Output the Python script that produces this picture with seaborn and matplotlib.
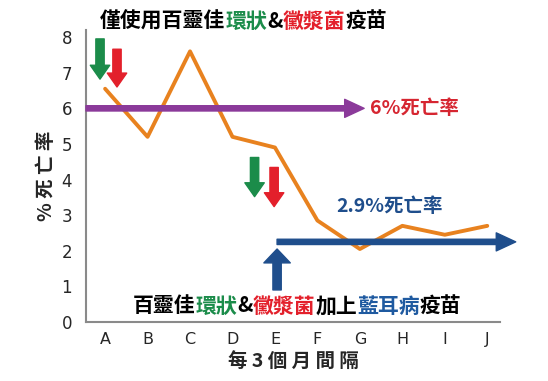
import matplotlib
matplotlib.use("Agg")
import matplotlib.pyplot as plt
import seaborn as sns
import pandas as pd

categories = ["A", "B", "C", "D", "E", "F", "G", "H", "I", "J"]
mortality = [6.55, 5.2, 7.6, 5.2, 4.9, 2.85, 2.05, 2.7, 2.45, 2.7]
yticks = [0, 1, 2, 3, 4, 5, 6, 7, 8]
rate_before = 6.0
rate_after = 2.25
label_before = "6%死亡率"
label_after = "2.9%死亡率"
title_parts = [("僅使用百靈佳", "black"), ("環狀", "#1B8C4A"), ("&", "black"),
               ("黴漿菌", "#E3202B"), ("疫苗", "black")]
bottom_parts = [("百靈佳", "black"), ("環狀", "#1B8C4A"), ("&", "black"),
                ("黴漿菌", "#E3202B"), ("加上", "black"), ("藍耳病", "#1F5AA0"),
                ("疫苗", "black")]
xlabel = "每 3 個 月 間 隔"
ylabel = "% 死 亡 率"

sns.set_theme(style="white")
FAM = ["Noto Sans CJK TC", "DejaVu Sans"]
plt.rcParams["font.family"] = FAM

fig = plt.figure(figsize=(5.48, 3.81), dpi=100)
ax = fig.add_axes([86 / 548, 1 - 322 / 381, (500 - 86) / 548, (322 - 30) / 381])

df = pd.DataFrame({"cat": categories, "val": mortality})
sns.lineplot(data=df, x="cat", y="val", ax=ax, color="#E8821F", linewidth=2.8, sort=False)

ax.set_xlim(-0.45, 9.3)
ax.set_ylim(0, 8.2)
ax.set_yticks(yticks)
ax.set_yticklabels([str(v) for v in yticks], fontsize=12, family="DejaVu Sans")
ax.set_xticks(range(len(categories)))
ax.set_xticklabels(categories, fontsize=11.5, family="DejaVu Sans")
ax.tick_params(axis="both", length=0)
ax.tick_params(axis="y", pad=10)
ax.tick_params(axis="x", pad=7)
for s in ["top", "right"]:
    ax.spines[s].set_visible(False)
for s in ["left", "bottom"]:
    ax.spines[s].set_color("#8a8a8a")
    ax.spines[s].set_linewidth(1.5)

ax.set_xlabel(xlabel, fontsize=14, fontweight="bold", labelpad=4)
ax.set_ylabel(ylabel, fontsize=14, fontweight="bold", labelpad=4)

# horizontal rate arrows
ax.annotate("", xy=(6.1, rate_before), xytext=(-0.45, rate_before), annotation_clip=False,
            arrowprops=dict(arrowstyle="simple,head_length=1.4,head_width=1.3,tail_width=0.38",
                            color="#8B3A9A", mutation_scale=10, shrinkA=0, shrinkB=0))
ax.annotate("", xy=(9.67, rate_after), xytext=(4.05, rate_after), annotation_clip=False,
            arrowprops=dict(arrowstyle="simple,head_length=1.4,head_width=1.3,tail_width=0.38",
                            color="#1F4E8C", mutation_scale=10, shrinkA=0, shrinkB=0))
ax.text(6.25, rate_before, label_before, color="#D62631", fontsize=14, fontweight="bold",
        va="center", ha="left")
ax.text(5.45, 3.25, label_after, color="#1F4E8C", fontsize=14, fontweight="bold",
        va="center", ha="left")

# block arrows
def block(x0, y0, x1, y1, color, hw=1.4, tw=0.6, hl=1.0):
    ax.annotate("", xy=(x1, y1), xytext=(x0, y0), annotation_clip=False,
                arrowprops=dict(arrowstyle=f"simple,head_length={hl},head_width={hw},tail_width={tw}",
                                color=color, mutation_scale=10, shrinkA=0, shrinkB=0))

block(-0.12, 7.95, -0.12, 6.82, "#1B8C4A")
block(0.28, 7.66, 0.28, 6.6, "#E3202B")
block(3.52, 4.62, 3.52, 3.52, "#1B8C4A")
block(3.98, 4.34, 3.98, 3.24, "#E3202B")
block(4.05, 0.9, 4.05, 2.05, "#1F4E8C", hw=1.9, tw=0.6, hl=1.0)

# multi-colored text lines, chained piece by piece
def chain(parts, x, y, size):
    last = None
    for txt, col in parts:
        if last is None:
            last = ax.annotate(txt, xy=(x, y), xycoords="figure fraction", color=col,
                               fontsize=size, fontweight="bold", ha="left", va="center",
                               annotation_clip=False)
        else:
            last = ax.annotate(txt, xy=(1, 0.5), xycoords=last, color=col,
                               fontsize=size, fontweight="bold", ha="left", va="center",
                               annotation_clip=False)

chain(title_parts, 100 / 548, 1 - 21 / 381, 15)
chain(bottom_parts, 133 / 548, 1 - 306 / 381, 15)

fig.savefig("out.png", dpi=100)
